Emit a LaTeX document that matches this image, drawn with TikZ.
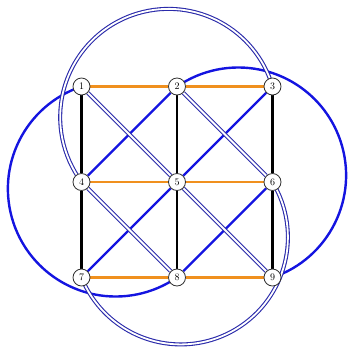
\documentclass[tikz,border=0pt]{standalone}
\usetikzlibrary{backgrounds}
\definecolor{orng}{HTML}{F0901E}
\definecolor{blu}{HTML}{1414E0}
\definecolor{navy}{HTML}{2A2AAA}
\begin{document}
\begin{tikzpicture}[x=1pt,y=-1pt,
  vtx/.style={circle,draw=black!80,line width=0.8pt,fill=white,inner sep=0pt,minimum size=17pt,font=\fontsize{10}{10}\selectfont},
  hedge/.style={draw=orng,line width=2.8pt},
  vedge/.style={draw=black,line width=2.3pt},
  sblue/.style={draw=blu,line width=2.4pt},
  dblue/.style={draw=navy,line width=1.1pt,double=white,double distance=1.8pt}]
\useasboundingbox (0,0) rectangle (348,349);
\node[vtx] (n1) at (81.5,86.5) {1};
\node[vtx] (n2) at (177,86.5) {2};
\node[vtx] (n3) at (272.5,86.5) {3};
\node[vtx] (n4) at (81.5,182) {4};
\node[vtx] (n5) at (177,182) {5};
\node[vtx] (n6) at (272.5,182) {6};
\node[vtx] (n7) at (81.5,277.5) {7};
\node[vtx] (n8) at (177,277.5) {8};
\node[vtx] (n9) at (272.5,277.5) {9};
\begin{pgfonlayer}{background}
% curved edges
\draw[sblue] (n1.center) arc[start angle=-108.5,end angle=-304.6,radius=107.8];
\draw[sblue] (n9.center) arc[start angle=71.5,end angle=-124.6,radius=107.8];
\draw[dblue] (n3.center) arc[start angle=-16.5,end angle=-216.6,radius=108.4];
\draw[dblue] (n6.center) arc[start angle=-31.1,end angle=157.95,radius=107.1];
% horizontal
\draw[hedge] (n1) -- (n2);
\draw[hedge] (n2) -- (n3);
\draw[hedge] (n4) -- (n5);
\draw[hedge] (n5) -- (n6);
\draw[hedge] (n7) -- (n8);
\draw[hedge] (n8) -- (n9);
% vertical
\draw[vedge] (n1) -- (n4);
\draw[vedge] (n4) -- (n7);
\draw[vedge] (n2) -- (n5);
\draw[vedge] (n5) -- (n8);
\draw[vedge] (n3) -- (n6);
\draw[vedge] (n6) -- (n9);
% single diagonals
\draw[sblue] (n4) -- (n2);
\draw[sblue] (n7) -- (n5);
\draw[sblue] (n5) -- (n3);
\draw[sblue] (n8) -- (n6);
% double diagonals
\draw[dblue] (n1) -- (n5);
\draw[dblue] (n5) -- (n9);
\draw[dblue] (n2) -- (n6);
\draw[dblue] (n4) -- (n8);
\end{pgfonlayer}
\end{tikzpicture}
\end{document}
